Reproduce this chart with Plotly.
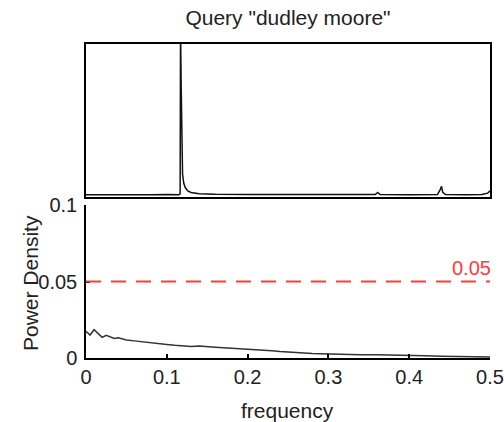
import plotly.graph_objects as go

# ---- data ----
title_text = 'Query "dudley moore"'
x_title = "frequency"
y_title = "Power Density"

freq_top = [0, 0.02, 0.04, 0.06, 0.08, 0.10, 0.115, 0.1165, 0.117, 0.1178, 0.1185,
            0.1195, 0.121, 0.123, 0.126, 0.13, 0.14, 0.16, 0.2, 0.25, 0.3, 0.35,
            0.358, 0.361, 0.364, 0.4, 0.435, 0.4385, 0.44, 0.4415, 0.445, 0.47,
            0.49, 0.497, 0.5]
power_top = [0.015, 0.014, 0.016, 0.015, 0.014, 0.016, 0.015, 0.02, 1.1, 0.72, 0.35,
             0.15, 0.09, 0.06, 0.04, 0.03, 0.022, 0.018, 0.016, 0.015, 0.014, 0.015,
             0.016, 0.03, 0.016, 0.014, 0.016, 0.05, 0.07, 0.03, 0.016, 0.014,
             0.016, 0.025, 0.04]

freq_bottom = [0, 0.005, 0.01, 0.015, 0.02, 0.025, 0.03, 0.035, 0.04, 0.05, 0.06,
               0.07, 0.08, 0.09, 0.1, 0.11, 0.12, 0.13, 0.14, 0.15, 0.16, 0.17,
               0.18, 0.19, 0.2, 0.21, 0.22, 0.23, 0.24, 0.25, 0.26, 0.27, 0.28,
               0.29, 0.3, 0.32, 0.34, 0.36, 0.38, 0.4, 0.42, 0.44, 0.46, 0.48, 0.5]
power_bottom = [0.0175, 0.0150, 0.0185, 0.0160, 0.0135, 0.0148, 0.0140, 0.0128,
                0.0132, 0.0118, 0.0112, 0.0105, 0.0098, 0.0092, 0.0088, 0.0083,
                0.0080, 0.0076, 0.0078, 0.0072, 0.0070, 0.0067, 0.0064, 0.0062,
                0.0060, 0.0056, 0.0052, 0.0048, 0.0043, 0.0039, 0.0035, 0.0032,
                0.0030, 0.0028, 0.0026, 0.0024, 0.0022, 0.0021, 0.0020, 0.0018,
                0.0015, 0.0012, 0.0010, 0.0008, 0.0006]

threshold = 0.05
threshold_label = "0.05"

x_tickvals = [0, 0.1, 0.2, 0.3, 0.4, 0.5]
x_ticktext = ["0", "0.1", "0.2", "0.3", "0.4", "0.5"]
y_tickvals = [0, 0.05, 0.1]
y_ticktext = ["0", "0.05", "0.1"]

FONT = "Liberation Sans, Arial, sans-serif"
TXT = "#222222"
FS_TICK = 20
FS_TITLE = 21

fig = go.Figure()
fig.add_trace(go.Scatter(x=freq_top, y=power_top, mode="lines",
                         line=dict(color="#111111", width=1.5),
                         xaxis="x", yaxis="y", showlegend=False))
fig.add_trace(go.Scatter(x=freq_bottom, y=power_bottom, mode="lines",
                         line=dict(color="#333333", width=1.5),
                         xaxis="x2", yaxis="y2", showlegend=False))

fig.add_shape(type="line", xref="x2", yref="y2", x0=0, x1=0.5,
              y0=threshold, y1=threshold,
              line=dict(color="#ff3b3b", width=2, dash="15px,10px"))
fig.add_annotation(xref="x2", yref="y2", x=0.5, y=threshold, text=threshold_label,
                   showarrow=False, xanchor="right", yanchor="bottom", yshift=1,
                   xshift=3,
                   font=dict(family=FONT, size=FS_TICK, color="#ff3b3b"))

# axis titles placed as paper annotations
fig.add_annotation(xref="paper", yref="paper", x=(287 - 86) / 404, y=(358 - 410) / 314,
                   text=x_title, showarrow=False, xanchor="center", yanchor="middle",
                   font=dict(family=FONT, size=FS_TITLE, color=TXT))
fig.add_annotation(xref="paper", yref="paper", x=(30 - 86) / 404, y=(358 - 283) / 314,
                   text=y_title, showarrow=False, xanchor="center", yanchor="middle",
                   textangle=-90,
                   font=dict(family=FONT, size=FS_TITLE, color=TXT))

fig.update_layout(
    width=504, height=422,
    margin=dict(l=86, r=14, t=44, b=64, autoexpand=False),
    paper_bgcolor="white", plot_bgcolor="white",
    font=dict(family=FONT, size=FS_TICK, color=TXT),
    title=dict(text=title_text, x=288/504, xanchor="center", xref="container",
               y=1 - 18/422, yanchor="middle", yref="container",
               font=dict(family=FONT, size=FS_TITLE, color=TXT)),
    xaxis=dict(domain=[0, 1], range=[0, 0.5], showline=True, mirror=True,
               linecolor="black", linewidth=1.5, showgrid=False, zeroline=False,
               showticklabels=False, ticks="", automargin=False),
    yaxis=dict(domain=[0.5127, 1], range=[0, 1], showline=True, mirror=True,
               linecolor="black", linewidth=1.5, showgrid=False, zeroline=False,
               showticklabels=False, ticks="", automargin=False),
    xaxis2=dict(domain=[0, 1], range=[0, 0.5], anchor="y2", showline=True,
                linecolor="black", linewidth=1.5, showgrid=False, zeroline=False,
                tickvals=x_tickvals, ticktext=x_ticktext, ticks="inside",
                ticklen=4, tickcolor="black", tickwidth=1.5, automargin=False,
                tickfont=dict(family=FONT, size=FS_TICK, color=TXT)),
    yaxis2=dict(domain=[0, 0.487], range=[0, 0.1], anchor="x2", showline=True,
                linecolor="black", linewidth=1.5, showgrid=False, zeroline=False,
                tickvals=y_tickvals, ticktext=y_ticktext, ticks="inside",
                ticklen=4, tickcolor="black", tickwidth=1.5, automargin=False,
                ticklabelstandoff=3,
                tickfont=dict(family=FONT, size=FS_TICK, color=TXT)),
)

fig.write_html("out.html", config={"displayModeBar": False},
               post_script="document.body.style.margin='0';document.body.style.overflow='hidden';")
